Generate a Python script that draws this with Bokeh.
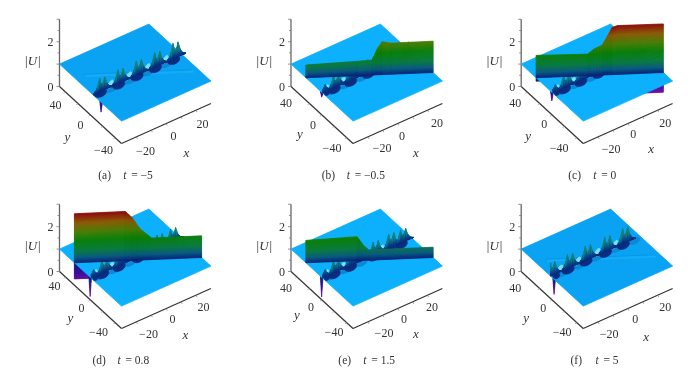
import numpy as np
from bokeh.plotting import figure
from bokeh.layouts import gridplot
from bokeh.embed import file_html
from bokeh.resources import INLINE
from bokeh.core.properties import value
from bokeh.models import Range1d, InlineStyleSheet

# ---- values ----
PANEL_LETTERS = ["(a)", "(b)", "(c)", "(d)", "(e)", "(f)"]
TIME_LABELS = ["= \u22125", "= \u22120.5", "= 0", "= 0.8", "= 1.5", "= 5"]
X_TICKS = [-20, 0, 20]
Y_TICKS = [40, 0, -40]
Z_TICKS = [0, 2]

WALL_X_B = [-30, -5.7, 1.3, 3.7, 6, 10, 30]
WALL_H_B = [0.57, 0.64, 0.67, 1.16, 1.47, 1.39, 1.40]
WALL_X_C = [-30, -5.7, -2.6, 1.3, 2.9, 6, 8.4, 30]
WALL_H_C = [1.0, 0.96, 1.18, 1.34, 1.6, 2.11, 2.18, 2.17]
WALL_LOW_C = [0.85, 0.85, 0.8, 0.6, 0.3, 0.12, 0.12, 0.12]
WALL_X_D = [-30, -6.1, -3, 0.9, 6.4, 30]
WALL_H_D = [2.19, 2.2, 1.93, 1.4, 0.96, 0.97]
WALL_LOW_D = [0.28, 0.28, 0.45, 0.7, 0.9, 0.9]
WALL_X_E = [-30, -5.9, -2.8, -0.4, 30]
WALL_H_E = [1.0, 1.07, 0.66, 0.46, 0.46]

HUMP_X_A = [-23.8, -11.5, 0.8, 13.1, 25.4]
HUMP_H_A = [0.6, 0.62, 0.65, 0.65, 0.7]
HUMP_X_B = [-30, -21, -10, 2, 14, 26]
HUMP_H_B = [0.35, 0.58, 0.7, 0.6, 0.6, 0.6]
HUMP_X_C = [-30, -21, -10, 2, 14, 26]
HUMP_H_C = [0.35, 0.58, 0.7, 0.6, 0.6, 0.6]
HUMP_X_D = [-30, -21, -10, 3, 16, 25]
HUMP_H_D = [0.35, 0.58, 0.7, 0.6, 0.6, 0.6]
HUMP_X_E = [-30, -21, -10, 5.6, 16, 24]
HUMP_H_E = [0.35, 0.58, 0.7, 0.6, 0.65, 0.6]
HUMP_X_F = [-29, -17, -5, 8, 20]
HUMP_H_F = [0.6, 0.62, 0.65, 0.65, 0.7]
HUMP_Y = [-4, -1, -1, -1, -1, 2.5]

HUMP_DX = [-6, -4, -3, -1.7, -0.9, 0, 0.9, 1.7, 3.2, 4.8, 7]
HUMP_SHAPE = [0, 0.2, 0.5, 1, 0.6, 0.5, 0.65, 0.95, 0.42, 0.15, 0]

DIP_Y = [-17, 0.6, 0.6, 0.6, 0.6, -3]
DIP_Z = [0.56, 0.78, 0.61, 0.14, 0.12, 0.33]

WALL_Y_START, WALL_Y_END = 26, -35

# ---- layout and style ----
W, H = 230, 189
COLS = [0, 230, 460]
ROWS = [0, 189]
FEET = [(59, 86), (290.5, 86), (520.7, 86), (59, 271), (290.5, 271), (520.7, 271)]
UX, UY = (1.49, -0.667), (0.62, 0.57)
ZS = -22.4
PLANE = ["#0aa2f2", "#0cb0fd", "#0cb0fd", "#0cb0fd", "#0cb0fd", "#0aa2f2"]
SERIF = "Liberation Serif"

LABELS = [
    dict(y=[(-4, 18), (21, 38), (44, 63)], yl=(8, 50), x=[(86, 64), (114, 49), (143, 37)], xl=(127, 66), cap=38.7),
    dict(y=[(-5, 16), (22, 38), (41, 61)], yl=(9, 47), x=[(91, 61), (111, 49), (146, 36)], xl=(125, 66), cap=30.7),
    dict(y=[(-6, 16), (23, 37), (38, 61)], yl=(7, 49), x=[(90, 62), (112, 47), (144, 36)], xl=(130, 62), cap=47),
    dict(y=[(-5, 14), (22, 36), (39, 60)], yl=(11, 46), x=[(89, 62), (113, 47), (144, 35)], xl=(126, 63), cap=33),
    dict(y=[(-5, 16), (20, 35), (43, 60)], yl=(6, 43), x=[(93, 61), (113, 47), (141, 35)], xl=(125, 62), cap=47.3),
    dict(y=[(-6, 16), (22, 36), (41, 60)], yl=(5, 46), x=[(88, 62), (114, 47), (144, 35)], xl=(125, 65), cap=49.3),
]
CAP_Y = 88

STOP_H = [-0.85, -0.45, 0, 0.25, 0.55, 1.0, 1.4, 1.8, 2.2]
STOP_RGB = np.array([(0x6a, 0x0e, 0xa4), (0x3a, 0x0a, 0x95), (0x06, 0x1f, 0x78), (0x0a, 0x5a, 0x80),
                     (0x0a, 0x7a, 0x40), (0x0a, 0x80, 0x0a), (0x4a, 0x7c, 0x05), (0x8a, 0x5a, 0x05), (0x8c, 0x0c, 0x0c)])
HUMP_STOP = [0, 0.2, 0.4, 0.7]
HUMP_RGB = np.array([(0x08, 0x28, 0x78), (0x0a, 0x48, 0x8c), (0x10, 0x78, 0x88), (0x18, 0x88, 0x70)])


def mix(h, stops, rgb):
    c = [int(np.interp(h, stops, rgb[:, i])) for i in range(3)]
    return "#%02x%02x%02x" % tuple(c)


def wall_color(h):
    return mix(h, STOP_H, STOP_RGB)


def hump_color(h):
    return mix(h, HUMP_STOP, HUMP_RGB)


def proj(x, y, z):
    u, v = x + 30, 50 - y
    return UX[0] * u + UY[0] * v, UX[1] * u + UY[1] * v + ZS * z


def wall_y(x):
    return WALL_Y_START + (WALL_Y_END - WALL_Y_START) * (x + 30) / 60


class Painter:
    def __init__(self):
        self.xs, self.ys, self.c = [], [], []

    def poly(self, pts, color):
        p = [proj(*q) for q in pts]
        self.xs.append([a for a, _ in p])
        self.ys.append([b for _, b in p])
        self.c.append(color)

    def blob(self, x0, y0, dsx, dsy, rx, ry, color, tilt=0.0):
        """soft spot on the plane, sized on the page relative to a hump's foot."""
        cx, cy = proj(x0, y0, 1)
        t = np.linspace(0, 2 * np.pi, 18, endpoint=False)
        ex, ey = rx * np.cos(t), ry * np.sin(t)
        self.xs.append(list(cx + dsx + ex * np.cos(tilt) - ey * np.sin(tilt)))
        self.ys.append(list(cy + dsy + ex * np.sin(tilt) + ey * np.cos(tilt)))
        self.c.append(color)

    def hanging(self, xk, hk):
        """vertical sheet along the wall line, coloured by height above the plane."""
        step = 0.04
        for i in range(len(xk) - 1):
            x1, x2, h1, h2 = xk[i], xk[i + 1], hk[i], hk[i + 1]
            n = 1 if abs(h1 - h2) < 0.15 else max(2, int(abs(h2 - h1) / 0.05))
            for j in range(n):
                a, b = x1 + (x2 - x1) * j / n, x1 + (x2 - x1) * (j + 1) / n
                ha, hb = h1 + (h2 - h1) * j / n, h1 + (h2 - h1) * (j + 1) / n
                top = max(abs(ha), abs(hb))
                sg = 1 if (ha + hb) >= 0 else -1
                m = max(1, int(round(top / step)))
                for k in range(m):
                    f1, f2 = k / m, (k + 1) / m
                    self.poly([(a, wall_y(a), 1 + ha * f1), (b, wall_y(b), 1 + hb * f1),
                               (b, wall_y(b), 1 + hb * f2), (a, wall_y(a), 1 + ha * f2)],
                              wall_color(sg * top * (f1 + f2) / 2))

    def hump_base(self, x0, y0, h):
        if x0 - 7 > -30:
            self.blob(x0, y0, -10, 1.5, 1.8, 4.5, "#7adfff", 0.5)
        if x0 + 9 < 30:
            self.blob(x0, y0, 9, -2, 6, 3, "#0b88d6", -0.4)

    def hump(self, x0, y0, h):
        s = min(h / 0.5, 1)
        if x0 - 4 > -30:
            self.blob(x0, y0, -2, 2, 6.5 * s, 4.2 * s, "#0a2c80", -0.4)
        else:
            self.blob(x0 + 3, y0, -0.5, 2, 3.5 * s, 3.2 * s, "#0a2c80", -0.4)
        n = 8
        for i in range(len(HUMP_DX) - 1):
            a, b = x0 + HUMP_DX[i], x0 + HUMP_DX[i + 1]
            if b <= -30:
                continue
            a = max(a, -30)
            h1, h2 = HUMP_SHAPE[i] * h, HUMP_SHAPE[i + 1] * h
            for k in range(n):
                f1, f2 = k / n, (k + 1) / n
                self.poly([(a, y0, 1 + h1 * f1), (b, y0, 1 + h2 * f1), (b, y0, 1 + h2 * f2), (a, y0, 1 + h1 * f2)],
                          hump_color(max(h1, h2) * (f1 + f2) / 2))

    def dip(self, y0, zlow):
        n = 7
        w = 2.0
        for k in range(n):
            f1, f2 = k / n, (k + 1) / n
            d = 1 - zlow
            self.poly([(-30, y0 - w * (1 - f1), 1 - d * f1), (-30, y0 + w * (1 - f1), 1 - d * f1),
                       (-30, y0 + w * (1 - f2), 1 - d * f2), (-30, y0 - w * (1 - f2), 1 - d * f2)],
                      wall_color(-0.85 * (f1 + f2) / 2))


WALLS = [None, (WALL_X_B, WALL_H_B, None), (WALL_X_C, WALL_H_C, WALL_LOW_C), (WALL_X_D, WALL_H_D, WALL_LOW_D),
         (WALL_X_E, WALL_H_E, None), None]
HUMPS = [(HUMP_X_A, HUMP_H_A), (HUMP_X_B, HUMP_H_B), (HUMP_X_C, HUMP_H_C),
         (HUMP_X_D, HUMP_H_D), (HUMP_X_E, HUMP_H_E), (HUMP_X_F, HUMP_H_F)]

blur = InlineStyleSheet(css=":host{filter:blur(0.6px);}")


def panel(i):
    col, row = i % 3, i // 3
    ox, oy = FEET[i]
    x0, y0 = COLS[col], ROWS[row]
    p = figure(width=W, height=H, output_backend="svg", toolbar_location=None,
               x_range=Range1d(x0 - ox, x0 + W - ox), y_range=Range1d(y0 + H - oy, y0 - oy),
               x_axis_location=None, y_axis_location=None, min_border=0)
    p.grid.visible = False
    p.outline_line_color = None

    # axes
    seg_x, seg_y, seg_c, seg_w = [], [], [], []

    def seg(a, b, color="#555555", w=1.0):
        pa, pb = proj(*a), proj(*b)
        seg_x.append([pa[0], pb[0]])
        seg_y.append([pa[1], pb[1]])
        seg_c.append(color)
        seg_w.append(w)

    seg((-30, 50, 0), (-30, 50, 3), "#666666", 1.3)
    seg((-30, 50, 0), (-30, -50, 0), "#333333", 1.2)
    seg((-30, -50, 0), (30, -50, 0), "#333333", 1.2)
    for z in np.arange(0, 3.01, 0.5):
        q = proj(-30, 50, z)
        ln = 3 if z == int(z) else 2
        seg_x.append([q[0] - ln, q[0]])
        seg_y.append([q[1], q[1]])
        seg_c.append("#777777")
        seg_w.append(0.8)
    for yt in [40, 20, 0, -20, -40]:
        q = proj(-30, yt, 0)
        seg_x.append([q[0] - 2, q[0]])
        seg_y.append([q[1] + 1, q[1]])
        seg_c.append("#999999")
        seg_w.append(0.7)
    for xt in [-20, -10, 0, 10, 20]:
        q = proj(xt, -50, 0)
        seg_x.append([q[0], q[0] + 1])
        seg_y.append([q[1], q[1] + 2])
        seg_c.append("#777777")
        seg_w.append(0.7)
    p.multi_line(seg_x, seg_y, line_color=seg_c, line_width=seg_w)

    # surface, back to front
    d = Painter()
    wall = WALLS[i]
    if wall is not None and wall[2] is not None:
        d.hanging(wall[0], [z - 1 for z in wall[2]])
    d.dip(DIP_Y[i], DIP_Z[i])
    d.poly([(-30, 50, 1), (30, 50, 1), (30, -50, 1), (-30, -50, 1)], PLANE[i])
    if wall is None:
        for dy, col_r in [(4.2, "#0a95e6"), (2.4, "#14adfa")]:
            d.poly([(-24, wall_y(-24) + dy + 1.2, 1), (27, wall_y(27) + dy + 1.2, 1),
                    (27, wall_y(27) + dy - 1.2, 1), (-24, wall_y(-24) + dy - 1.2, 1)], col_r)
    hx, hh = HUMPS[i]
    yh = HUMP_Y[i]
    for a, b in zip(hx, hh):
        d.hump_base(a, yh, b)
    for a, b in zip(hx, hh):
        if wall is not None and yh < wall_y(a):
            continue
        d.hump(a, yh, b)
    if wall is not None:
        for a, b in zip(hx, hh):
            if yh < wall_y(a):
                d.hump(a, yh, b)
        d.hanging(wall[0], wall[1])
    p.patches(d.xs, d.ys, fill_color=d.c, line_color=d.c, line_width=0.8)

    # labels
    L = LABELS[i]
    serif = value(SERIF)

    def txt(xs, ys, s, size, style="normal", align="center"):
        p.text(xs, ys, text=s, text_font=serif, text_font_size=size, text_font_style=style,
               text_align=align, text_baseline="middle", text_color="#333333")

    fmt = lambda v: str(v).replace("-", "\u2212")
    txt([-9, -9], [proj(-30, 50, z)[1] for z in Z_TICKS], [fmt(z) for z in Z_TICKS], "12px")
    txt([c[0] for c in L["y"]], [c[1] for c in L["y"]], [fmt(v) for v in Y_TICKS], "12px")
    txt([c[0] for c in L["x"]], [c[1] for c in L["x"]], [fmt(v) for v in X_TICKS], "12px")
    txt([-27], [-26], ["|U|"], "13px", "italic")
    txt([L["yl"][0]], [L["yl"][1]], ["y"], "13px", "italic")
    txt([L["xl"][0]], [L["xl"][1]], ["x"], "13px", "italic")
    c = L["cap"]
    txt([c], [CAP_Y], [PANEL_LETTERS[i]], "11.5px", "normal", "left")
    txt([c + 25], [CAP_Y], ["t"], "11.5px", "italic", "left")
    txt([c + 33], [CAP_Y], [TIME_LABELS[i]], "11.5px", "normal", "left")
    return p


figs = [panel(i) for i in range(6)]
grid = gridplot([figs[:3], figs[3:]], toolbar_location=None)
grid.stylesheets = [blur]
open("out.html", "w").write(file_html(grid, INLINE))
